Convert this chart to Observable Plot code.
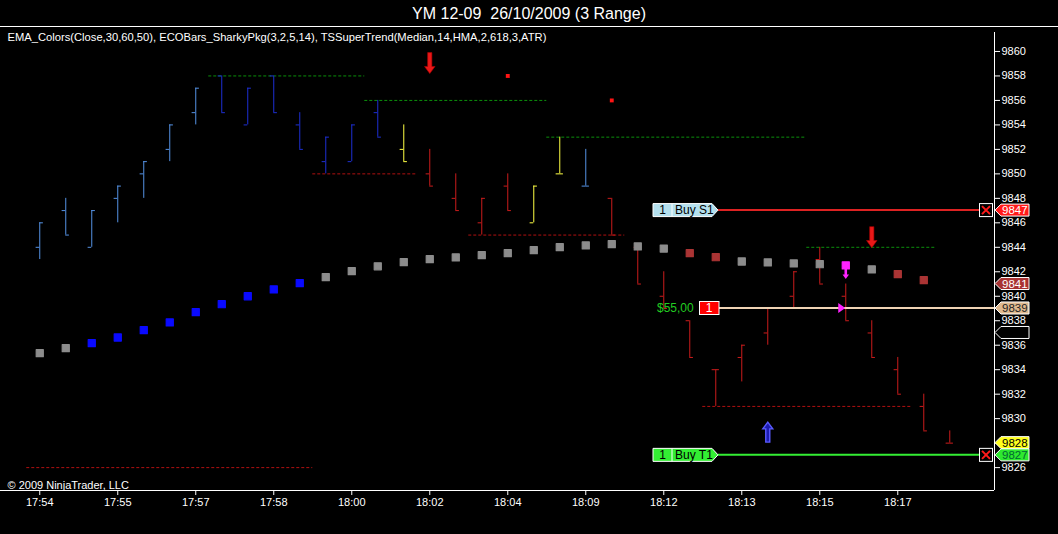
<!DOCTYPE html>
<html>
<head>
<meta charset="utf-8">
<script src="https://cdn.jsdelivr.net/npm/d3@7"></script>
<script src="https://cdn.jsdelivr.net/npm/@observablehq/plot@0.6"></script>
<style>
  body { margin: 0; background: #000; width: 1058px; height: 534px; overflow: hidden;
         font-family: "Liberation Sans", Arial, sans-serif; }
  #title { height: 26px; line-height: 27px; border-bottom: 1px solid #fff; color: #fff;
           text-align: center; font-size: 16px; white-space: pre; }
  #chart svg { display: block; }
</style>
</head>
<body>
<div id="title"></div>
<div id="chart"></div>
<script>
const FONT = '"Liberation Sans", Arial, sans-serif';

const title = "YM 12-09  26/10/2009 (3 Range)";
const indicatorText = "EMA_Colors(Close,30,60,50), ECOBars_SharkyPkg(3,2,5,14), TSSuperTrend(Median,14,HMA,2,618,3,ATR)";
const copyright = "\u00a9 2009 NinjaTrader, LLC";

// one label every 3rd range bar
const timeLabels = ["17:54", "17:55", "17:57", "17:58", "18:00", "18:02", "18:04", "18:09", "18:12", "18:13", "18:15", "18:17"];
const yTicks = d3.range(9826, 9861, 2);

// 3 range bars
const highs  = [9846, 9848, 9847, 9849, 9851, 9854, 9857, 9858, 9857, 9858, 9855, 9853, 9854, 9856, 9854, 9852, 9850, 9848, 9850, 9849, 9853, 9852, 9848, 9844, 9842, 9838, 9834, 9836, 9839, 9842, 9844, 9841, 9838, 9835, 9832, 9829];
const lows   = [9843, 9845, 9844, 9846, 9848, 9851, 9854, 9855, 9854, 9855, 9852, 9850, 9851, 9853, 9851, 9849, 9847, 9845, 9847, 9846, 9850, 9849, 9845, 9841, 9839, 9835, 9831, 9833, 9836, 9839, 9841, 9838, 9835, 9832, 9829, 9828];
const opens  = [9844, 9847, 9844, 9848, 9850, 9852, 9855, 9858, 9854, 9858, 9854, 9851, 9851, 9855, 9852, 9850, 9848, 9846, 9849, 9846, 9850, 9849, 9848, 9844, 9840, 9838, 9834, 9835, 9837, 9840, 9843, 9840, 9837, 9834, 9831, 9828];
const closes = [9846, 9845, 9847, 9849, 9851, 9854, 9857, 9855, 9857, 9855, 9852, 9853, 9854, 9853, 9851, 9849, 9847, 9848, 9847, 9849, 9850, 9849, 9845, 9841, 9839, 9835, 9834, 9836, 9839, 9842, 9841, 9838, 9835, 9832, 9829, 9828];
const barState = ["up", "up", "up", "up", "up", "up", "up", "strong", "strong", "strong", "strong", "strong", "strong", "strong",
  "flat", "down", "down", "down", "down", "flat", "flat", "up", "down", "down", "down", "down", "down", "down", "down", "down",
  "down", "down", "down", "down", "down", "down"];

// super trend dots
const stValues = [9835.35, 9835.76, 9836.17, 9836.63, 9837.23, 9837.86, 9838.7, 9839.35, 9840.0, 9840.56, 9841.07, 9841.56,
  9842.05, 9842.45, 9842.79, 9843.03, 9843.17, 9843.36, 9843.52, 9843.77, 9844.01, 9844.15, 9844.26, 9844.07, 9843.9,
  9843.52, 9843.19, 9842.84, 9842.76, 9842.68, 9842.62, 9842.52, 9842.19, 9841.81, 9841.32];
const stState = ["flat", "flat", "long", "long", "long", "long", "long", "long", "long", "long", "long", "flat", "flat", "flat",
  "flat", "flat", "flat", "flat", "flat", "flat", "flat", "flat", "flat", "flat", "flat", "short", "short", "flat", "flat",
  "flat", "flat", "signal", "flat", "short", "short"];

// dotted swing levels (bar index from / to)
const levelFrom  = [6.5, 12.5, 19.5, 10.5, 16.5, 29.5, 25.5, -0.5];
const levelTo    = [12.5, 19.5, 29.5, 14.5, 22.5, 34.5, 33.5, 10.5];
const levelPrice = [9858, 9856, 9853, 9850, 9845, 9844, 9831, 9826];
const levelSide  = ["high", "high", "high", "low", "low", "high", "low", "low"];

// signal arrows (bar, price at the arrow's middle)
const arrowBar   = [15, 32, 28, 31];
const arrowPrice = [9859.05, 9844.83, 9828.9, 9841.95];
const arrowSide  = ["sell", "sell", "buy", "signal"];

const markBar = [18, 22];
const markPrice = [9858, 9856];

// orders and position
const orderNames  = ["Buy S1", "Buy T1"];
const orderKind   = ["stop", "target"];
const orderPrices = [9847, 9827];
const orderQty    = [1, 1];
const positionPrice = 9839;
const positionQty = 1;
const positionPnl = "$55,00";
const entryBar = 31;

// price markers on the axis
const tagPrices = [9847, 9841, 9839, 9837, 9828, 9827];
const tagKinds  = ["stop", "trend", "entry", "blank", "last", "target"];

const BAR_COLOR = {up: "#5592e4", strong: "#1d2fd4", flat: "#ffff44", down: "#cc1c1c"};
const ST_COLOR = {flat: "#8c8c8c", long: "#0a0aff", short: "#aa3434", signal: "#ff22ff"};
const LEVEL_COLOR = {high: "#0b8f0b", low: "#b01010"};
const TAG_STYLE = {
  stop: ["#ff1a1a", "#fff"], trend: ["#a83232", "#fff"], entry: ["#dfb98f", "#222"],
  blank: ["#000", "#fff"], last: ["#ffff1e", "#000"], target: ["#2ee82e", "#063"]
};
const ORDER_STYLE = {stop: {label: "#b4e0ee", line: "#dd2222"}, target: {label: "#33ee33", line: "#33ee33"}};

// block arrow symbols, centred, size taken from r
function blockArrow(dir) {
  return {
    draw(ctx, size) {
      const r = Math.sqrt(size / Math.PI);
      const w = r * 0.2, hw = r * 0.5, hl = r * 0.68;
      const p = [[-w, -r], [w, -r], [w, r - hl], [hw, r - hl], [0, r], [-hw, r - hl], [-w, r - hl]];
      p.forEach(([x, y], k) => (k ? ctx.lineTo(x, y * dir) : ctx.moveTo(x, y * dir)));
      ctx.closePath();
    }
  };
}
const arrowDown = blockArrow(1), arrowUp = blockArrow(-1);

const bars = highs.map((h, i) => ({i, high: h, low: lows[i], open: opens[i], close: closes[i], state: barState[i]}));
const st = stValues.map((v, i) => ({i, v, state: stState[i]}));
const levels = levelPrice.map((p, k) => ({x1: levelFrom[k], x2: levelTo[k], price: p, side: levelSide[k]}));
const arrows = arrowBar.map((b, k) => ({i: b, price: arrowPrice[k], side: arrowSide[k]}));
const marksPts = markBar.map((b, k) => ({i: b, price: markPrice[k]}));

const X0 = -1.51, X1 = 36.72, Y0 = 9824.13, Y1 = 9861.55;
const TICK = 0.14;

document.getElementById("title").textContent = title;

const chart = Plot.plot({
  width: 1058,
  height: 507,
  marginTop: 5,
  marginBottom: 44,
  marginLeft: 0,
  marginRight: 64,
  style: {background: "#000", color: "#fff", fontFamily: FONT, fontSize: "11px"},
  x: {domain: [X0, X1]},
  y: {domain: [Y0, Y1]},
  marks: [
    Plot.ruleY(levels, {y: "price", x1: "x1", x2: "x2", stroke: d => LEVEL_COLOR[d.side], strokeDasharray: "3,2"}),
    Plot.ruleX(bars, {x: "i", y1: "low", y2: "high", stroke: d => BAR_COLOR[d.state]}),
    Plot.ruleY(bars, {y: "open", x1: d => d.i - TICK, x2: "i", stroke: d => BAR_COLOR[d.state]}),
    Plot.ruleY(bars, {y: "close", x1: "i", x2: d => d.i + TICK, stroke: d => BAR_COLOR[d.state]}),
    Plot.dot(st, {x: "i", y: "v", symbol: "square", r: 4, fill: d => ST_COLOR[d.state],
      stroke: d => ST_COLOR[d.state], strokeWidth: 1.2, strokeLinejoin: "round"}),
    Plot.dot(marksPts, {x: "i", y: "price", symbol: "square", r: 2.2, fill: "#ff1414"}),
    Plot.dot(arrows.filter(d => d.side === "sell"), {x: "i", y: "price", symbol: arrowDown, r: 10.5,
      fill: "#e81818", stroke: "#b00000", strokeWidth: 0.6}),
    Plot.dot(arrows.filter(d => d.side === "buy"), {x: "i", y: "price", symbol: arrowUp, r: 10,
      fill: "#1c1cb0", stroke: "#5a5aff", strokeWidth: 1.4}),
    Plot.dot(arrows.filter(d => d.side === "signal"), {x: "i", y: "price", symbol: arrowDown, r: 6.5,
      fill: "#ff22ff"}),
    Plot.ruleX([X1], {stroke: "#fff"}),
    Plot.ruleY([Y0], {x1: X0, x2: X1, stroke: "#fff"}),
    Plot.axisY(yTicks, {anchor: "right", tickSize: 5, tickPadding: 2, fontSize: 11, tickFormat: d => String(d),
      fill: "#fff", stroke: "#fff"}),
    Plot.axisX(d3.range(0, 36, 3), {anchor: "bottom", tickSize: 5, tickPadding: 3, fontSize: 11,
      tickFormat: d => timeLabels[d / 3], fill: "#fff", stroke: "#fff"}),
    Plot.text([indicatorText], {text: d => d, frameAnchor: "top-left", textAnchor: "start", lineAnchor: "top",
      dx: 7, dy: 1, fontSize: 11.2, fill: "#fff"}),
    Plot.text([copyright], {text: d => d, frameAnchor: "bottom-left", textAnchor: "start", lineAnchor: "bottom",
      dx: 7, dy: -2, fontSize: 11, fill: "#fff"})
  ]
});

document.getElementById("chart").append(chart);

// order lines, labels and axis price tags, placed with the plot's own scales
const xs = chart.scale("x"), ys = chart.scale("y");
const right = xs.apply(X1);
const labelLeft = right - 341;
const g = d3.select(chart).append("g").attr("font-family", FONT).attr("text-anchor", "start");

// position line
{
  const yc = ys.apply(positionPrice);
  g.append("line").attr("x1", labelLeft + 66).attr("x2", right).attr("y1", yc).attr("y2", yc)
    .attr("stroke", "#efd3b4").attr("stroke-width", 2);
  g.append("text").attr("x", labelLeft + 4).attr("y", yc).attr("dy", "0.36em").attr("font-size", 12)
    .attr("fill", "#22cc22").text(positionPnl);
  g.append("rect").attr("x", labelLeft + 46.5).attr("y", yc - 6.5).attr("width", 19.5).attr("height", 13)
    .attr("fill", "#ff0000").attr("stroke", "#fff");
  g.append("text").attr("x", labelLeft + 56).attr("y", yc).attr("dy", "0.36em").attr("font-size", 12)
    .attr("text-anchor", "middle").attr("fill", "#fff").text(positionQty);
  const ex = xs.apply(entryBar) - 4;
  g.append("path").attr("d", `M${ex - 3},${yc - 5}L${ex + 4},${yc}L${ex - 3},${yc + 5}Z`).attr("fill", "#ff22ff");
}

// working orders
orderPrices.forEach((p, k) => {
  const yc = ys.apply(p);
  const s = ORDER_STYLE[orderKind[k]];
  g.append("line").attr("x1", labelLeft + 65).attr("x2", right - 15).attr("y1", yc).attr("y2", yc)
    .attr("stroke", s.line).attr("stroke-width", 2);
  const l = labelLeft, h = 6.5;
  g.append("path")
    .attr("d", `M${l},${yc - h}H${l + 59}L${l + 65},${yc}L${l + 59},${yc + h}H${l}Z`)
    .attr("fill", s.label).attr("stroke", "#fff").attr("stroke-width", 1);
  g.append("line").attr("x1", l + 19).attr("x2", l + 19).attr("y1", yc - h).attr("y2", yc + h)
    .attr("stroke", "#fff");
  g.append("text").attr("x", l + 9.5).attr("y", yc).attr("dy", "0.36em").attr("font-size", 12)
    .attr("text-anchor", "middle").attr("fill", "#000").text(orderQty[k]);
  g.append("text").attr("x", l + 22).attr("y", yc).attr("dy", "0.36em").attr("font-size", 12)
    .attr("fill", "#000").text(orderNames[k]);
  // cancel box
  const bx = right - 15;
  g.append("rect").attr("x", bx + 0.5).attr("y", yc - 6.5).attr("width", 13).attr("height", 13)
    .attr("fill", "#000").attr("stroke", "#fff");
  g.append("path").attr("d", `M${bx + 3},${yc - 4}L${bx + 11},${yc + 4}M${bx + 11},${yc - 4}L${bx + 3},${yc + 4}`)
    .attr("stroke", "#ff1a1a").attr("stroke-width", 2);
});

// axis price tags
tagPrices.forEach((p, k) => {
  const yc = ys.apply(p);
  const [fill, ink] = TAG_STYLE[tagKinds[k]];
  const x0 = right + 1, h = 6;
  g.append("path")
    .attr("d", `M${x0},${yc}L${x0 + 6},${yc - h}H${x0 + 34}V${yc + h}H${x0 + 6}Z`)
    .attr("fill", fill).attr("stroke", "#fff").attr("stroke-width", 1);
  if (tagKinds[k] !== "blank") {
    g.append("text").attr("x", x0 + 7).attr("y", yc).attr("dy", "0.36em").attr("font-size", 11.5)
      .attr("fill", ink).text(p);
  }
});
</script>
</body>
</html>
